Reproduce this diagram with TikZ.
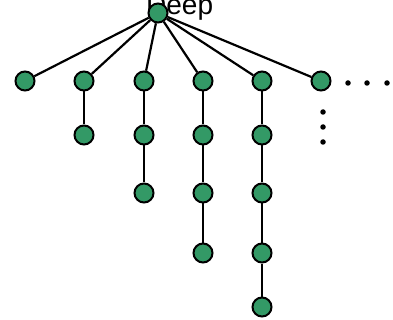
\documentclass[tikz,border=0pt]{standalone}
\usepackage{fontspec}
\setmainfont{Liberation Sans}
\definecolor{nodegreen}{RGB}{51,153,102}
\begin{document}
\begin{tikzpicture}[x=1pt,y=-1pt,
  tnode/.style={circle,draw=black,fill=nodegreen,line width=2pt,minimum size=19pt,inner sep=0pt},
  edge/.style={draw=black,line width=2.2pt},
  dotmark/.style={circle,fill=black,minimum size=5.5pt,inner sep=0pt}]
\useasboundingbox (0,0) rectangle (393,320);
\node[anchor=base west,inner sep=0pt,font=\fontsize{28}{30}\selectfont] (title) at (146,15) {Deep};
% columns
\node[tnode] (a1) at (25,81) {};
\node[tnode] (b1) at (84,81) {};
\node[tnode] (b2) at (84,135) {};
\node[tnode] (c1) at (144,81) {};
\node[tnode] (c2) at (144,135) {};
\node[tnode] (c3) at (144,193) {};
\node[tnode] (d1) at (203,81) {};
\node[tnode] (d2) at (203,135) {};
\node[tnode] (d3) at (203,193) {};
\node[tnode] (d4) at (203,253) {};
\node[tnode] (e1) at (262,81) {};
\node[tnode] (e2) at (262,135) {};
\node[tnode] (e3) at (262,193) {};
\node[tnode] (e4) at (262,253) {};
\node[tnode] (e5) at (262,307) {};
\node[tnode] (f1) at (321,81) {};
\node[tnode] (r) at (158,13) {};
% edges
\foreach \n in {a1,b1,c1,d1,e1,f1} \draw[edge] (r) -- (\n);
\draw[edge] (b1) -- (b2);
\draw[edge] (c1) -- (c2) -- (c3);
\draw[edge] (d1) -- (d2) -- (d3) -- (d4);
\draw[edge] (e1) -- (e2) -- (e3) -- (e4) -- (e5);
% dots
\node[dotmark] (h1) at (348,83) {};
\node[dotmark] (h2) at (367,83) {};
\node[dotmark] (h3) at (387,83) {};
\node[dotmark] (v1) at (323,112) {};
\node[dotmark] (v2) at (323,127) {};
\node[dotmark] (v3) at (323,142) {};
\end{tikzpicture}
\end{document}
